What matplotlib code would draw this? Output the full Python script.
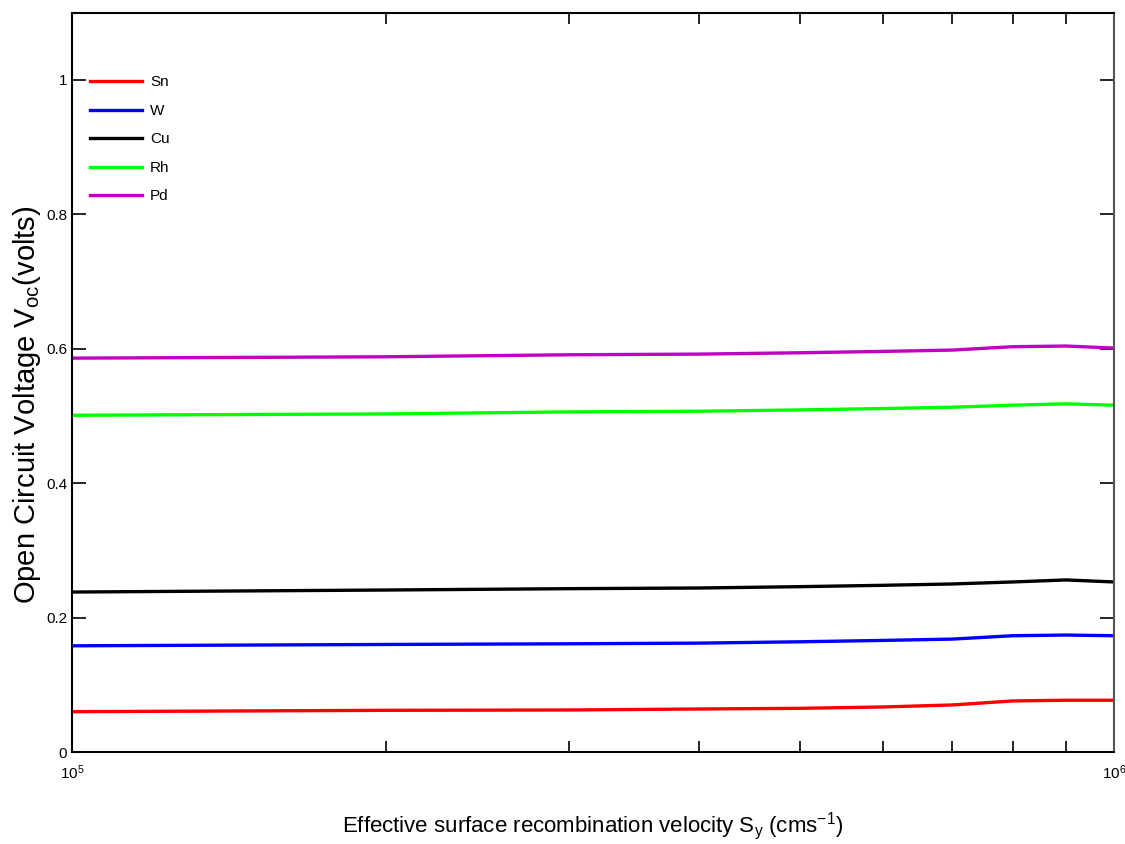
import matplotlib as mpl
import matplotlib.pyplot as plt
from matplotlib.ticker import LogLocator, NullFormatter, FixedLocator, FixedFormatter

mpl.rcParams["font.family"] = ["Liberation Sans", "DejaVu Sans"]
mpl.rcParams["mathtext.fontset"] = "custom"
mpl.rcParams["mathtext.rm"] = "Liberation Sans"

# surface recombination velocity (cm/s)
sy = [1e5, 2e5, 3e5, 4e5, 5e5, 6e5, 7e5, 8e5, 9e5, 1e6]

# open circuit voltage (V) for each contact metal
voc_sn = [0.060, 0.062, 0.0625, 0.064, 0.065, 0.067, 0.070, 0.076, 0.077, 0.077]
voc_w = [0.158, 0.160, 0.161, 0.162, 0.164, 0.166, 0.168, 0.173, 0.174, 0.173]
voc_cu = [0.238, 0.241, 0.243, 0.244, 0.246, 0.248, 0.250, 0.253, 0.256, 0.253]
voc_rh = [0.501, 0.503, 0.506, 0.507, 0.509, 0.511, 0.513, 0.516, 0.518, 0.516]
voc_pd = [0.586, 0.588, 0.591, 0.592, 0.594, 0.596, 0.598, 0.603, 0.604, 0.601]

metals = ["Sn", "W", "Cu", "Rh", "Pd"]
curves = [voc_sn, voc_w, voc_cu, voc_rh, voc_pd]
colors = ["#ff0000", "#0000ff", "#000000", "#00ff00", "#c000c0"]

fig = plt.figure(figsize=(11.25, 8.44), dpi=100)
ax = fig.add_axes([0.064, 0.109, 0.926, 0.876])

for name, v, c in zip(metals, curves, colors):
    ax.plot(sy, v, color=c, lw=2.4, label=name)

ax.set_xscale("log")
ax.set_xlim(1e5, 1e6)
ax.set_ylim(0, 1.1)

ax.xaxis.set_major_locator(FixedLocator([1e5, 1e6]))
ax.xaxis.set_major_formatter(FixedFormatter([r"$\mathrm{10^5}$", r"$\mathrm{10^6}$"]))
ax.xaxis.set_minor_locator(LogLocator(base=10, subs=range(2, 10)))
ax.xaxis.set_minor_formatter(NullFormatter())

ax.set_yticks([0, 0.2, 0.4, 0.6, 0.8, 1.0])
ax.set_yticklabels(["0", "0.2", "0.4", "0.6", "0.8", "1"])

ax.tick_params(which="both", direction="in", top=True, right=True, labelsize=11)
ax.tick_params(which="major", length=10, width=1.2)
ax.tick_params(which="minor", length=8, width=1.2)
ax.tick_params(axis="x", pad=8)

for s in ax.spines.values():
    s.set_linewidth(1.5)
ax.spines["right"].set_color("#555555")

ax.set_ylabel(r"Open Circuit Voltage V$_{\mathrm{oc}}$(volts)", fontsize=21)
ax.yaxis.set_label_coords(-0.028, 0.47)
ax.set_xlabel(r"Effective surface recombination velocity S$_{\mathrm{y}}$ (cms$^{\mathrm{-1}}$)",
              fontsize=16)
ax.xaxis.set_label_coords(0.5, -0.078)

ax.legend(loc="upper left", bbox_to_anchor=(0.0, 0.94), frameon=False,
          fontsize=11, handlelength=3.4, handletextpad=0.5,
          labelspacing=0.95, borderaxespad=0.8)

plt.savefig("out.png", dpi=100)
plt.close(fig)
